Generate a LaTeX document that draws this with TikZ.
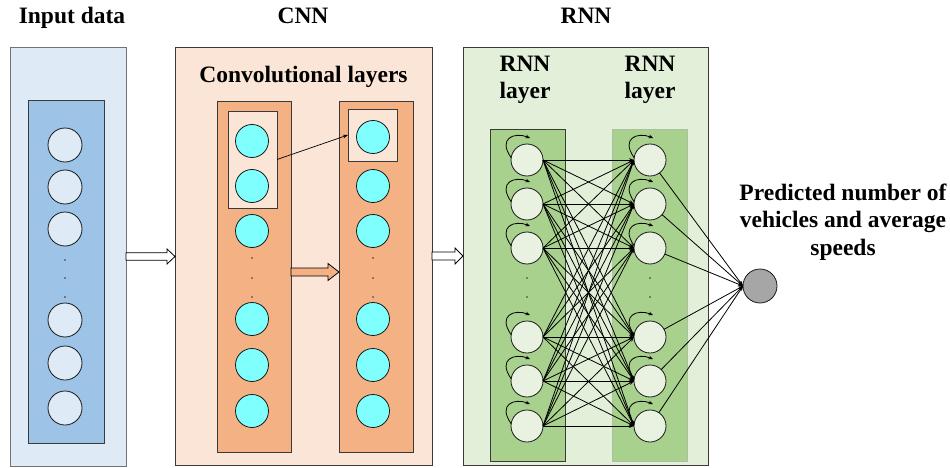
\documentclass[tikz,border=0pt]{standalone}
\usepackage{fontspec}
\setmainfont{Liberation Serif}
\usetikzlibrary{arrows.meta,calc}

\definecolor{inpbg}{HTML}{DEEBF7}
\definecolor{inpcol}{HTML}{9DC3E6}
\definecolor{cnnbg}{HTML}{FBE5D6}
\definecolor{cnncol}{HTML}{F4B183}
\definecolor{cyanfill}{HTML}{80FFFF}
\definecolor{rnnbg}{HTML}{E2F0D9}
\definecolor{rnncol}{HTML}{A9D18E}
\definecolor{rnncirc}{HTML}{E9F2E1}
\definecolor{outfill}{HTML}{A6A6A6}
\definecolor{edge}{HTML}{3A3A3A}

\begin{document}
\begin{tikzpicture}[x=1pt,y=-1pt,
  every node/.style={inner sep=0pt, outer sep=0pt},
  panel/.style={draw=edge, line width=0.9pt, rectangle},
  col/.style={draw=edge, line width=0.8pt, rectangle},
  unit/.style={circle, draw=black!90, line width=0.8pt, minimum size=#1},
  unit/.default=34pt,
  lbl/.style={font=\bfseries\fontsize{23.5}{27.5}\selectfont, anchor=base},
  dotmark/.style={circle, fill=black!80, minimum size=1.6pt},
  conn/.style={line width=0.8pt, -{Stealth[length=5pt,width=3.8pt]}},
  selfarc/.style={line width=0.8pt, -{Stealth[length=4.5pt,width=3.8pt]}},
  blockarrow/.style n args={4}{draw=black, line width=0.8pt, fill=#4,
    to path={let \p1=(\tikztostart), \p2=(\tikztotarget) in
      (\x1,\y1+#1) -- (\x2-#3,\y1+#1) -- (\x2-#3,\y1+#2) -- (\x2,\y1)
      -- (\x2-#3,\y1-#2) -- (\x2-#3,\y1-#1) -- (\x1,\y1-#1) -- cycle}}
]
\useasboundingbox (0,0) rectangle (950,468);

% titles
\node[lbl] (tin)  at (72,24)  {Input data};
\node[lbl] (tcnn) at (303,24) {CNN};
\node[lbl] (trnn) at (586,24) {RNN};

% ---------- input data ----------
\node[panel, draw=black!55, fill=inpbg, minimum width=116pt, minimum height=419pt] (inp) at (68,256.5) {};
\node[col, fill=inpcol, minimum width=76pt, minimum height=343pt] (inc) at (66,271.5) {};
\foreach \y [count=\i] in {145,187,229,320,363,408}
  \node[unit, fill=inpbg] (in\i) at (65,\y) {};
\foreach \y [count=\i] in {260,278,297}
  \node[dotmark] (ind\i) at (65,\y) {};

% ---------- CNN ----------
\node[panel, fill=cnnbg, minimum width=257pt, minimum height=418pt] (cnn) at (303.5,256) {};
\node[lbl] (tconv) at (303.5,83) {Convolutional layers};
\node[col, fill=cnncol, minimum width=74pt, minimum height=351pt] (lc) at (254,276.5) {};
\node[col, fill=cnncol, minimum width=74pt, minimum height=351pt] (rc) at (376,276.5) {};
\node[col, fill=cnnbg, minimum width=49pt, minimum height=97pt] (lbox) at (252.5,159.5) {};
\node[col, fill=cnnbg, minimum width=49pt, minimum height=52pt] (rbox) at (372.5,135) {};
\foreach \y [count=\i] in {141,186,231,319,365,411}
  \node[unit=33pt, fill=cyanfill] (ca\i) at (252,\y) {};
\foreach \y [count=\i] in {137,186,231,319,365,411}
  \node[unit=33pt, fill=cyanfill] (cb\i) at (373,\y) {};
\foreach \y [count=\i] in {258,278,297} {
  \node[dotmark] (cad\i) at (252,\y) {};
  \node[dotmark] (cbd\i) at (373,\y) {};
}
\draw[line width=0.7pt, -{Stealth[length=5pt,width=3.6pt]}] (lbox.east) -- (rbox.west);
\coordinate (mid) at (0,272);
\draw[blockarrow={4pt}{8.5pt}{11pt}{cnncol}] (lc.east |- mid) to (rc.west |- mid);

% ---------- RNN ----------
\node[panel, fill=rnnbg, minimum width=245pt, minimum height=418pt] (rnn) at (585.5,256) {};
\node[col, fill=rnncol, minimum width=75pt, minimum height=332pt] (rl) at (527.5,295) {};
\node[rectangle, draw=rnncol!70!black!60, line width=0.5pt, fill=rnncol, minimum width=75pt, minimum height=332pt] (rr) at (649.5,295) {};
\node[lbl, align=center] (tl1) at (525,99) {RNN\\layer};
\node[lbl, align=center] (tl2) at (650,99) {RNN\\layer};

\foreach \y [count=\i] in {160,204,248,337,381,426} {
  \node[unit=32pt, fill=rnncirc] (l\i) at (527,\y) {};
  \node[unit=32pt, fill=rnncirc] (r\i) at (650,\y) {};
}
\foreach \y [count=\i] in {278,297} {
  \node[dotmark] (ld\i) at (527,\y) {};
  \node[dotmark] (rd\i) at (650,\y) {};
}
\foreach \i in {1,...,6}
  \foreach \j in {1,...,6}
    \draw[conn] (l\i.east) -- (r\j.west);
% recurrent self-connections
\foreach \n in {l1,l2,l3,l4,l5,l6,r1,r2,r3,r4,r5,r6}
  \draw[selfarc] (\n.172) .. controls +(-14,-20) and +(-15,-6) .. ($(\n.north)+(3,-6)$);

% ---------- output ----------
\node[unit, fill=outfill] (out) at (760,286) {};
\foreach \i in {1,...,6}
  \draw[conn] (r\i) -- (out.west);
\node[lbl, align=center] (ptxt) at (843,255) {Predicted number of\\vehicles and average\\speeds};

% block arrows between the stages
\draw[blockarrow={3.7pt}{7.5pt}{8pt}{white}] (inp.east) to (cnn.west);
\draw[blockarrow={4pt}{8pt}{8pt}{white}] (cnn.east) to (rnn.west);
\end{tikzpicture}
\end{document}
